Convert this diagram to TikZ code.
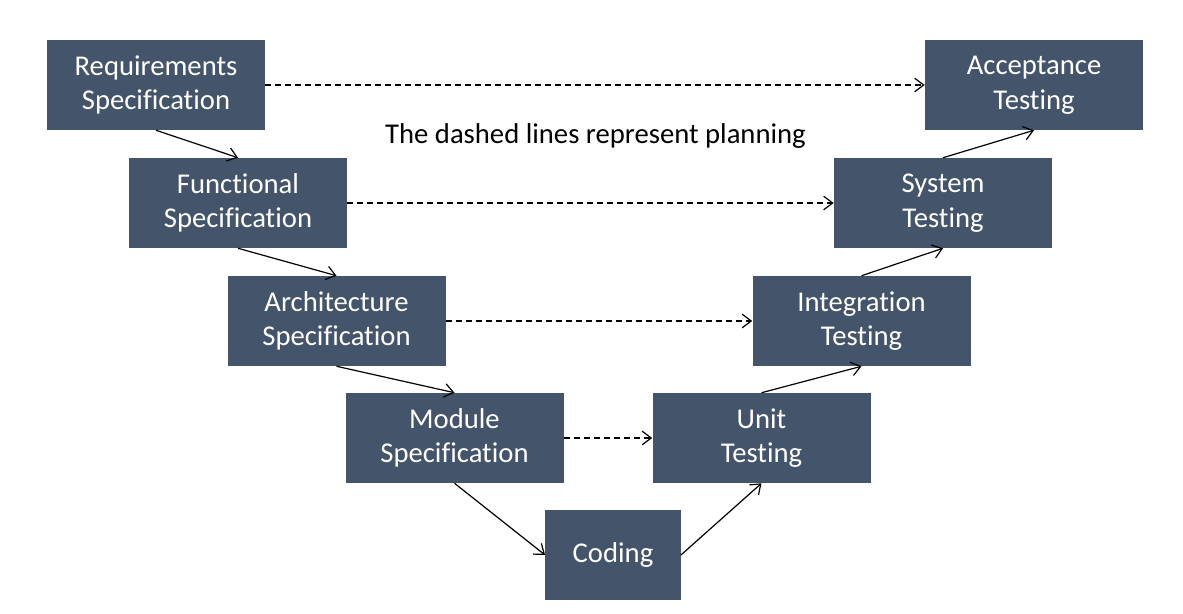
\documentclass[tikz,border=0pt]{standalone}
\usepackage{fontspec}
\setmainfont{Carlito}[Ligatures=CommonOff]
\usetikzlibrary{arrows.meta,positioning}
\definecolor{SlateBlue}{RGB}{68,84,106}
\tikzset{
  phase/.style={fill=SlateBlue,text=white,minimum height=67.5pt,minimum width=163.5pt,align=center,inner sep=2pt,font=\fontsize{21.5}{26}\selectfont},
  flow/.style={-{Straight Barb[length=2.4mm,width=3.6mm]},line width=0.9pt,draw=black},
  plan/.style={-{Straight Barb[length=2.4mm,width=3.6mm]},line width=0.9pt,dash pattern=on 4.5pt off 3pt,draw=black}
}
\begin{document}
\begin{tikzpicture}[x=0.75pt,y=-0.75pt]
\useasboundingbox (0,0) rectangle (1183,614);
% left branch
\node[phase] (req) at (156,85) {Requirements\\Specification};
\node[phase] (func) at (238,203) {Functional\\Specification};
\node[phase] (arch) at (336.5,321) {Architecture\\Specification};
\node[phase] (mod) at (454.5,438) {Module\\Specification};
\node[phase, minimum width=101.5pt] (code) at (613,555) {Coding};
% right branch
\node[phase] (unit) at (761.5,438) {Unit\\Testing};
\node[phase] (integ) at (861.5,321) {Integration\\Testing};
\node[phase] (sys) at (943,203) {System\\Testing};
\node[phase] (acc) at (1034,85) {Acceptance\\Testing};
\node[font=\fontsize{21.5}{26}\selectfont] (note) at (595.5,136.5) {The dashed lines represent planning};

\draw[flow] (req.south) -- (func.north);
\draw[flow] (func.south) -- (arch.north);
\draw[flow] (arch.south) -- (mod.north);
\draw[flow] (mod.south) -- (code.west);
\draw[flow] (code.east) -- (unit.south);
\draw[flow] (unit.north) -- (integ.south);
\draw[flow] (integ.north) -- (sys.south);
\draw[flow] (sys.north) -- (acc.south);

\draw[plan] (req) -- (acc);
\draw[plan] (func) -- (sys);
\draw[plan] (arch) -- (integ);
\draw[plan] (mod) -- (unit);
\end{tikzpicture}
\end{document}
